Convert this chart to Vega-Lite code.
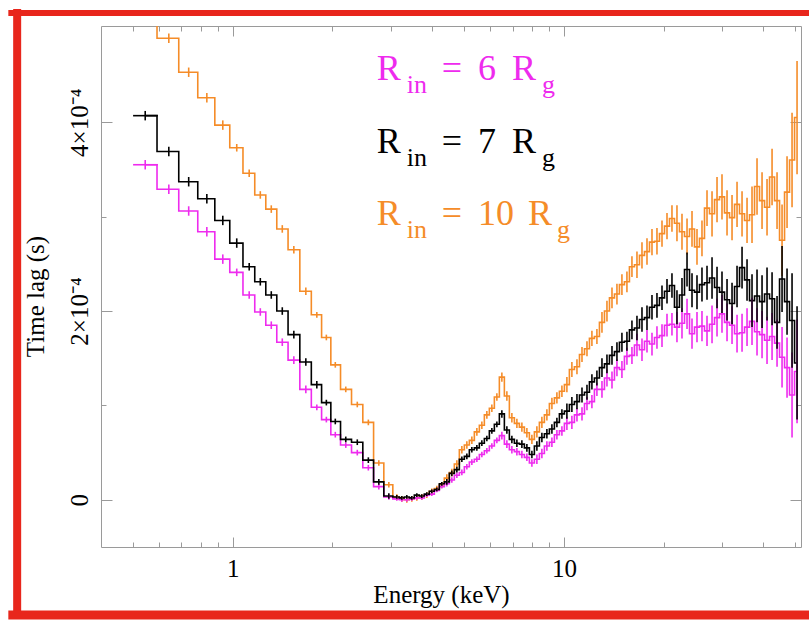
{
  "$schema": "https://vega.github.io/schema/vega-lite/v6.json",
  "width": 700,
  "height": 521,
  "autosize": {"type": "none"},
  "padding": {"left": 101, "top": 26, "right": 8, "bottom": 74},
  "background": "#ffffff",
  "config": {
    "view": {"stroke": null},
    "font": "Liberation Serif",
    "text": {"font": "Liberation Serif"},
    "axis": {
      "domainColor": "#9a9a9a", "tickColor": "#9a9a9a", "domainWidth": 1, "tickWidth": 1,
      "labelFont": "Liberation Serif", "labelFontSize": 25, "labelColor": "#000000",
      "titleFont": "Liberation Serif", "titleFontSize": 25, "titleFontWeight": "normal", "titleColor": "#000000",
      "grid": false, "labelOverlap": false, "labelBound": false, "labelFlush": false
    }
  },
  "datasets": {
    "firstbins": [
      {"r":10,"lo":0.5,"hi":0.594,"v":5.5},
      {"r":6,"lo":0.5,"hi":0.594,"v":3.55},
      {"r":7,"lo":0.5,"hi":0.594,"v":4.07}
    ],
    "lags": [
      {"r":10,"c":0.544,"v":5.5,"d":0.05},{"r":10,"c":0.641,"v":4.89,"d":0.05},{"r":10,"c":0.736,"v":4.53,"d":0.05},{"r":10,"c":0.835,"v":4.26,"d":0.05},{"r":10,"c":0.933,"v":3.97,"d":0.05},
      {"r":10,"c":1.028,"v":3.73,"d":0.04},{"r":10,"c":1.121,"v":3.46,"d":0.04},{"r":10,"c":1.211,"v":3.23,"d":0.04},{"r":10,"c":1.307,"v":3.08,"d":0.04},{"r":10,"c":1.411,"v":2.87,"d":0.04},
      {"r":10,"c":1.529,"v":2.65,"d":0.04},{"r":10,"c":1.662,"v":2.21,"d":0.04},{"r":10,"c":1.794,"v":1.96,"d":0.03},{"r":10,"c":1.917,"v":1.72,"d":0.03},{"r":10,"c":2.04,"v":1.43,"d":0.03},
      {"r":10,"c":2.194,"v":1.17,"d":0.03},{"r":10,"c":2.377,"v":1.01,"d":0.03},{"r":10,"c":2.567,"v":0.82,"d":0.03},{"r":10,"c":2.761,"v":0.39,"d":0.03},{"r":10,"c":2.96,"v":0.16,"d":0.03},
      {"r":10,"c":3.129,"v":0.03,"d":0.03},{"r":10,"c":3.24,"v":0.01,"d":0.03},{"r":10,"c":3.354,"v":0.0,"d":0.03},{"r":10,"c":3.473,"v":0.01,"d":0.03},{"r":10,"c":3.596,"v":0.02,"d":0.03},
      {"r":10,"c":3.723,"v":0.03,"d":0.03},{"r":10,"c":3.855,"v":0.05,"d":0.03},{"r":10,"c":3.991,"v":0.09,"d":0.03},{"r":10,"c":4.133,"v":0.12,"d":0.03},{"r":10,"c":4.279,"v":0.16,"d":0.03},
      {"r":10,"c":4.43,"v":0.23,"d":0.04},{"r":10,"c":4.587,"v":0.29,"d":0.04},{"r":10,"c":4.75,"v":0.38,"d":0.04},{"r":10,"c":4.918,"v":0.53,"d":0.04},{"r":10,"c":5.092,"v":0.58,"d":0.04},
      {"r":10,"c":5.272,"v":0.63,"d":0.04},{"r":10,"c":5.459,"v":0.72,"d":0.04},{"r":10,"c":5.652,"v":0.79,"d":0.04},{"r":10,"c":5.852,"v":0.9,"d":0.04},{"r":10,"c":6.059,"v":0.97,"d":0.04},
      {"r":10,"c":6.274,"v":1.09,"d":0.04},{"r":10,"c":6.496,"v":1.3,"d":0.05},{"r":10,"c":6.726,"v":1.1,"d":0.05},{"r":10,"c":6.964,"v":0.87,"d":0.05},{"r":10,"c":7.211,"v":0.81,"d":0.05},
      {"r":10,"c":7.466,"v":0.77,"d":0.05},{"r":10,"c":7.73,"v":0.71,"d":0.05},{"r":10,"c":8.004,"v":0.64,"d":0.05},{"r":10,"c":8.287,"v":0.72,"d":0.06},{"r":10,"c":8.58,"v":0.82,"d":0.06},
      {"r":10,"c":8.884,"v":0.9,"d":0.06},{"r":10,"c":9.199,"v":1.02,"d":0.06},{"r":10,"c":9.524,"v":1.08,"d":0.06},{"r":10,"c":9.862,"v":1.15,"d":0.06},{"r":10,"c":10.21,"v":1.22,"d":0.08},
      {"r":10,"c":10.57,"v":1.38,"d":0.08},{"r":10,"c":10.95,"v":1.41,"d":0.08},{"r":10,"c":11.34,"v":1.54,"d":0.08},{"r":10,"c":11.74,"v":1.6,"d":0.08},{"r":10,"c":12.15,"v":1.71,"d":0.08},
      {"r":10,"c":12.58,"v":1.73,"d":0.08},{"r":10,"c":13.03,"v":1.88,"d":0.11},{"r":10,"c":13.49,"v":2.0,"d":0.11},{"r":10,"c":13.97,"v":2.14,"d":0.11},{"r":10,"c":14.46,"v":2.18,"d":0.11},
      {"r":10,"c":14.97,"v":2.28,"d":0.11},{"r":10,"c":15.5,"v":2.31,"d":0.11},{"r":10,"c":16.05,"v":2.47,"d":0.11},{"r":10,"c":16.62,"v":2.49,"d":0.14},{"r":10,"c":17.21,"v":2.59,"d":0.14},
      {"r":10,"c":17.82,"v":2.63,"d":0.14},{"r":10,"c":18.45,"v":2.73,"d":0.14},{"r":10,"c":19.1,"v":2.74,"d":0.14},{"r":10,"c":19.78,"v":2.82,"d":0.14},{"r":10,"c":20.48,"v":2.9,"d":0.14},
      {"r":10,"c":21.2,"v":2.98,"d":0.14},{"r":10,"c":21.95,"v":2.93,"d":0.19},{"r":10,"c":22.73,"v":2.84,"d":0.19},{"r":10,"c":23.54,"v":2.79,"d":0.19},{"r":10,"c":24.37,"v":2.87,"d":0.19},
      {"r":10,"c":25.23,"v":2.68,"d":0.19},{"r":10,"c":26.12,"v":2.77,"d":0.19},{"r":10,"c":27.05,"v":3.09,"d":0.19},{"r":10,"c":28.01,"v":3.03,"d":0.24},{"r":10,"c":29.0,"v":3.18,"d":0.24},
      {"r":10,"c":30.02,"v":3.21,"d":0.24},{"r":10,"c":31.09,"v":3.04,"d":0.24},{"r":10,"c":32.19,"v":2.99,"d":0.24},{"r":10,"c":33.33,"v":3.13,"d":0.24},{"r":10,"c":34.51,"v":3.03,"d":0.24},
      {"r":10,"c":35.73,"v":2.96,"d":0.24},{"r":10,"c":36.99,"v":3.02,"d":0.3},{"r":10,"c":38.3,"v":3.32,"d":0.3},{"r":10,"c":39.66,"v":3.17,"d":0.3},{"r":10,"c":41.06,"v":3.1,"d":0.3},
      {"r":10,"c":42.52,"v":3.42,"d":0.3},{"r":10,"c":44.02,"v":3.17,"d":0.3},{"r":10,"c":45.58,"v":2.75,"d":0.38},{"r":10,"c":47.19,"v":3.26,"d":0.38},{"r":10,"c":48.86,"v":3.6,"d":0.5},
      {"r":10,"c":50.59,"v":4.05,"d":0.6},

      {"r":6,"c":0.544,"v":3.55,"d":0.05},{"r":6,"c":0.641,"v":3.29,"d":0.05},{"r":6,"c":0.736,"v":3.06,"d":0.05},{"r":6,"c":0.835,"v":2.84,"d":0.05},{"r":6,"c":0.933,"v":2.55,"d":0.05},
      {"r":6,"c":1.028,"v":2.41,"d":0.04},{"r":6,"c":1.121,"v":2.17,"d":0.04},{"r":6,"c":1.211,"v":1.99,"d":0.04},{"r":6,"c":1.307,"v":1.85,"d":0.04},{"r":6,"c":1.411,"v":1.67,"d":0.04},
      {"r":6,"c":1.529,"v":1.48,"d":0.04},{"r":6,"c":1.662,"v":1.17,"d":0.04},{"r":6,"c":1.794,"v":0.98,"d":0.03},{"r":6,"c":1.917,"v":0.85,"d":0.03},{"r":6,"c":2.04,"v":0.69,"d":0.03},
      {"r":6,"c":2.194,"v":0.58,"d":0.03},{"r":6,"c":2.377,"v":0.5,"d":0.03},{"r":6,"c":2.567,"v":0.34,"d":0.03},{"r":6,"c":2.761,"v":0.14,"d":0.03},{"r":6,"c":2.96,"v":0.03,"d":0.03},
      {"r":6,"c":3.129,"v":0.01,"d":0.02},{"r":6,"c":3.24,"v":0.0,"d":0.02},{"r":6,"c":3.354,"v":0.0,"d":0.02},{"r":6,"c":3.473,"v":0.01,"d":0.02},{"r":6,"c":3.596,"v":0.02,"d":0.02},
      {"r":6,"c":3.723,"v":0.02,"d":0.02},{"r":6,"c":3.855,"v":0.05,"d":0.02},{"r":6,"c":3.991,"v":0.06,"d":0.02},{"r":6,"c":4.133,"v":0.1,"d":0.02},{"r":6,"c":4.279,"v":0.14,"d":0.02},
      {"r":6,"c":4.43,"v":0.17,"d":0.03},{"r":6,"c":4.587,"v":0.21,"d":0.03},{"r":6,"c":4.75,"v":0.26,"d":0.03},{"r":6,"c":4.918,"v":0.29,"d":0.03},{"r":6,"c":5.092,"v":0.35,"d":0.03},
      {"r":6,"c":5.272,"v":0.4,"d":0.03},{"r":6,"c":5.459,"v":0.43,"d":0.03},{"r":6,"c":5.652,"v":0.48,"d":0.03},{"r":6,"c":5.852,"v":0.52,"d":0.03},{"r":6,"c":6.059,"v":0.57,"d":0.03},
      {"r":6,"c":6.274,"v":0.63,"d":0.03},{"r":6,"c":6.496,"v":0.68,"d":0.04},{"r":6,"c":6.726,"v":0.59,"d":0.04},{"r":6,"c":6.964,"v":0.53,"d":0.04},{"r":6,"c":7.211,"v":0.51,"d":0.04},
      {"r":6,"c":7.466,"v":0.48,"d":0.04},{"r":6,"c":7.73,"v":0.45,"d":0.04},{"r":6,"c":8.004,"v":0.39,"d":0.04},{"r":6,"c":8.287,"v":0.43,"d":0.05},{"r":6,"c":8.58,"v":0.49,"d":0.05},
      {"r":6,"c":8.884,"v":0.57,"d":0.05},{"r":6,"c":9.199,"v":0.61,"d":0.05},{"r":6,"c":9.524,"v":0.69,"d":0.05},{"r":6,"c":9.862,"v":0.73,"d":0.05},{"r":6,"c":10.21,"v":0.81,"d":0.07},
      {"r":6,"c":10.57,"v":0.82,"d":0.07},{"r":6,"c":10.95,"v":0.9,"d":0.07},{"r":6,"c":11.34,"v":0.91,"d":0.07},{"r":6,"c":11.74,"v":1.02,"d":0.07},{"r":6,"c":12.15,"v":1.04,"d":0.07},
      {"r":6,"c":12.58,"v":1.17,"d":0.07},{"r":6,"c":13.03,"v":1.17,"d":0.09},{"r":6,"c":13.49,"v":1.29,"d":0.09},{"r":6,"c":13.97,"v":1.27,"d":0.09},{"r":6,"c":14.46,"v":1.4,"d":0.09},
      {"r":6,"c":14.97,"v":1.38,"d":0.09},{"r":6,"c":15.5,"v":1.52,"d":0.09},{"r":6,"c":16.05,"v":1.53,"d":0.09},{"r":6,"c":16.62,"v":1.64,"d":0.12},{"r":6,"c":17.21,"v":1.59,"d":0.12},
      {"r":6,"c":17.82,"v":1.68,"d":0.12},{"r":6,"c":18.45,"v":1.65,"d":0.12},{"r":6,"c":19.1,"v":1.72,"d":0.12},{"r":6,"c":19.78,"v":1.74,"d":0.12},{"r":6,"c":20.48,"v":1.85,"d":0.12},
      {"r":6,"c":21.2,"v":1.86,"d":0.12},{"r":6,"c":21.95,"v":1.83,"d":0.16},{"r":6,"c":22.73,"v":1.87,"d":0.16},{"r":6,"c":23.54,"v":1.97,"d":0.16},{"r":6,"c":24.37,"v":1.76,"d":0.16},
      {"r":6,"c":25.23,"v":1.83,"d":0.16},{"r":6,"c":26.12,"v":1.84,"d":0.16},{"r":6,"c":27.05,"v":1.79,"d":0.16},{"r":6,"c":28.01,"v":1.86,"d":0.2},{"r":6,"c":29.0,"v":1.93,"d":0.2},
      {"r":6,"c":30.02,"v":1.97,"d":0.2},{"r":6,"c":31.09,"v":1.88,"d":0.2},{"r":6,"c":32.19,"v":1.85,"d":0.2},{"r":6,"c":33.33,"v":1.76,"d":0.2},{"r":6,"c":34.51,"v":1.77,"d":0.2},
      {"r":6,"c":35.73,"v":1.83,"d":0.2},{"r":6,"c":36.99,"v":1.89,"d":0.25},{"r":6,"c":38.3,"v":1.78,"d":0.25},{"r":6,"c":39.66,"v":1.75,"d":0.25},{"r":6,"c":41.06,"v":1.69,"d":0.25},
      {"r":6,"c":42.52,"v":1.73,"d":0.25},{"r":6,"c":44.02,"v":1.66,"d":0.25},{"r":6,"c":45.58,"v":1.51,"d":0.32},{"r":6,"c":47.19,"v":1.4,"d":0.32},{"r":6,"c":48.86,"v":1.11,"d":0.45},
      {"r":6,"c":50.59,"v":1.36,"d":0.55},

      {"r":7,"c":0.544,"v":4.07,"d":0.05},{"r":7,"c":0.641,"v":3.69,"d":0.05},{"r":7,"c":0.736,"v":3.37,"d":0.05},{"r":7,"c":0.835,"v":3.19,"d":0.05},{"r":7,"c":0.933,"v":2.96,"d":0.05},
      {"r":7,"c":1.028,"v":2.72,"d":0.05},{"r":7,"c":1.121,"v":2.47,"d":0.04},{"r":7,"c":1.211,"v":2.31,"d":0.04},{"r":7,"c":1.307,"v":2.17,"d":0.04},{"r":7,"c":1.411,"v":2.0,"d":0.04},
      {"r":7,"c":1.529,"v":1.75,"d":0.04},{"r":7,"c":1.662,"v":1.46,"d":0.04},{"r":7,"c":1.794,"v":1.22,"d":0.04},{"r":7,"c":1.917,"v":1.03,"d":0.03},{"r":7,"c":2.04,"v":0.83,"d":0.03},
      {"r":7,"c":2.194,"v":0.64,"d":0.03},{"r":7,"c":2.377,"v":0.61,"d":0.03},{"r":7,"c":2.567,"v":0.42,"d":0.03},{"r":7,"c":2.761,"v":0.19,"d":0.03},{"r":7,"c":2.96,"v":0.04,"d":0.03},
      {"r":7,"c":3.129,"v":0.03,"d":0.02},{"r":7,"c":3.24,"v":0.02,"d":0.02},{"r":7,"c":3.354,"v":0.03,"d":0.02},{"r":7,"c":3.473,"v":0.02,"d":0.02},{"r":7,"c":3.596,"v":0.05,"d":0.02},
      {"r":7,"c":3.723,"v":0.04,"d":0.02},{"r":7,"c":3.855,"v":0.06,"d":0.02},{"r":7,"c":3.991,"v":0.09,"d":0.02},{"r":7,"c":4.133,"v":0.11,"d":0.02},{"r":7,"c":4.279,"v":0.17,"d":0.02},
      {"r":7,"c":4.43,"v":0.19,"d":0.03},{"r":7,"c":4.587,"v":0.28,"d":0.03},{"r":7,"c":4.75,"v":0.32,"d":0.03},{"r":7,"c":4.918,"v":0.43,"d":0.03},{"r":7,"c":5.092,"v":0.46,"d":0.03},
      {"r":7,"c":5.272,"v":0.53,"d":0.03},{"r":7,"c":5.459,"v":0.55,"d":0.03},{"r":7,"c":5.652,"v":0.6,"d":0.03},{"r":7,"c":5.852,"v":0.65,"d":0.03},{"r":7,"c":6.059,"v":0.73,"d":0.03},
      {"r":7,"c":6.274,"v":0.8,"d":0.03},{"r":7,"c":6.496,"v":0.91,"d":0.04},{"r":7,"c":6.726,"v":0.74,"d":0.04},{"r":7,"c":6.964,"v":0.64,"d":0.04},{"r":7,"c":7.211,"v":0.6,"d":0.04},
      {"r":7,"c":7.466,"v":0.59,"d":0.04},{"r":7,"c":7.73,"v":0.55,"d":0.04},{"r":7,"c":8.004,"v":0.48,"d":0.04},{"r":7,"c":8.287,"v":0.57,"d":0.05},{"r":7,"c":8.58,"v":0.66,"d":0.05},
      {"r":7,"c":8.884,"v":0.7,"d":0.05},{"r":7,"c":9.199,"v":0.75,"d":0.05},{"r":7,"c":9.524,"v":0.82,"d":0.05},{"r":7,"c":9.862,"v":0.91,"d":0.05},{"r":7,"c":10.21,"v":0.94,"d":0.08},
      {"r":7,"c":10.57,"v":1.01,"d":0.08},{"r":7,"c":10.95,"v":1.04,"d":0.08},{"r":7,"c":11.34,"v":1.11,"d":0.08},{"r":7,"c":11.74,"v":1.14,"d":0.08},{"r":7,"c":12.15,"v":1.25,"d":0.08},
      {"r":7,"c":12.58,"v":1.29,"d":0.08},{"r":7,"c":13.03,"v":1.4,"d":0.1},{"r":7,"c":13.49,"v":1.44,"d":0.1},{"r":7,"c":13.97,"v":1.53,"d":0.1},{"r":7,"c":14.46,"v":1.57,"d":0.1},
      {"r":7,"c":14.97,"v":1.67,"d":0.1},{"r":7,"c":15.5,"v":1.68,"d":0.1},{"r":7,"c":16.05,"v":1.8,"d":0.1},{"r":7,"c":16.62,"v":1.82,"d":0.13},{"r":7,"c":17.21,"v":1.91,"d":0.13},
      {"r":7,"c":17.82,"v":1.93,"d":0.13},{"r":7,"c":18.45,"v":2.04,"d":0.13},{"r":7,"c":19.1,"v":2.06,"d":0.13},{"r":7,"c":19.78,"v":2.14,"d":0.13},{"r":7,"c":20.48,"v":2.21,"d":0.13},
      {"r":7,"c":21.2,"v":2.27,"d":0.13},{"r":7,"c":21.95,"v":2.04,"d":0.18},{"r":7,"c":22.73,"v":2.17,"d":0.18},{"r":7,"c":23.54,"v":2.44,"d":0.18},{"r":7,"c":24.37,"v":2.22,"d":0.18},
      {"r":7,"c":25.23,"v":2.2,"d":0.18},{"r":7,"c":26.12,"v":2.28,"d":0.18},{"r":7,"c":27.05,"v":2.3,"d":0.18},{"r":7,"c":28.01,"v":2.35,"d":0.22},{"r":7,"c":29.0,"v":2.25,"d":0.22},
      {"r":7,"c":30.02,"v":2.2,"d":0.22},{"r":7,"c":31.09,"v":2.12,"d":0.22},{"r":7,"c":32.19,"v":2.08,"d":0.22},{"r":7,"c":33.33,"v":2.26,"d":0.22},{"r":7,"c":34.51,"v":2.46,"d":0.22},
      {"r":7,"c":35.73,"v":2.33,"d":0.22},{"r":7,"c":36.99,"v":2.11,"d":0.28},{"r":7,"c":38.3,"v":2.16,"d":0.28},{"r":7,"c":39.66,"v":2.1,"d":0.28},{"r":7,"c":41.06,"v":2.18,"d":0.28},
      {"r":7,"c":42.52,"v":2.13,"d":0.28},{"r":7,"c":44.02,"v":1.88,"d":0.28},{"r":7,"c":45.58,"v":2.34,"d":0.35},{"r":7,"c":47.19,"v":2.1,"d":0.35},{"r":7,"c":48.86,"v":1.9,"d":0.5},
      {"r":7,"c":50.59,"v":1.45,"d":0.6}
    ]
  },
  "resolve": {"axis": {"x": "independent", "y": "independent"}},
  "layer": [
    {
      "data": {"name": "lags"},
      "mark": {"type": "line", "interpolate": "step", "strokeWidth": 1.6, "clip": true},
      "encoding": {
        "x": {
          "field": "c", "type": "quantitative",
          "scale": {"type": "log", "domain": [0.4, 52], "nice": false},
          "axis": {
            "orient": "bottom", "values": [1, 10], "tickSize": -10, "labelPadding": 39,
            "labelBaseline": "alphabetic", "labelAlign": "center",
            "labelExpr": "datum.value == 1 ? '1' : '10'",
            "title": "Energy (keV)", "titleX": 340, "titleY": 55,
            "titleBaseline": "alphabetic", "titleAlign": "center"
          }
        },
        "y": {
          "field": "v", "type": "quantitative",
          "scale": {"domain": [-0.5, 5.02], "nice": false, "zero": false},
          "axis": {
            "orient": "left", "values": [0, 2, 4], "tickSize": -11, "labelPadding": 25,
            "labelAngle": -90, "labelAlign": "center", "labelBaseline": "alphabetic",
            "labelExpr": "datum.value == 0 ? '0' : (datum.value == 2 ? '2×10⁻⁴' : '4×10⁻⁴')",
            "title": "Time lag (s)", "titleX": -58, "titleY": 270, "titleAngle": -90,
            "titleBaseline": "alphabetic", "titleAlign": "center"
          }
        },
        "color": {
          "field": "r", "type": "nominal",
          "scale": {"domain": [10, 6, 7], "range": ["#f58c28", "#ee2bee", "#000000"]},
          "legend": null
        }
      }
    },
    {
      "data": {"name": "lags"},
      "mark": {"type": "errorbar", "clip": true, "thickness": 1.6},
      "encoding": {
        "x": {"field": "c", "type": "quantitative", "axis": {"orient": "top", "values": [1, 10], "tickSize": -10, "labels": false, "title": null}},
        "y": {"field": "v", "type": "quantitative", "axis": {"orient": "right", "values": [0, 2, 4], "tickSize": -11, "labels": false, "title": null}},
        "yError": {"field": "d"},
        "color": {"field": "r", "type": "nominal", "legend": null}
      }
    },
    {
      "data": {"values": [{}]},
      "mark": {"type": "point", "opacity": 0},
      "encoding": {
        "x": {"datum": 1, "type": "quantitative", "axis": {"orient": "bottom", "values": [0.5, 0.6, 0.7, 0.8, 0.9, 2, 3, 4, 5, 6, 7, 8, 9, 20, 30, 40, 50], "tickSize": -5, "labels": false, "domain": false, "title": null}},
        "y": {"datum": 1, "type": "quantitative", "axis": {"orient": "left", "values": [1, 3], "tickSize": -5, "labels": false, "domain": false, "title": null}}
      }
    },
    {
      "data": {"values": [{}]},
      "mark": {"type": "point", "opacity": 0},
      "encoding": {
        "x": {"datum": 1, "type": "quantitative", "axis": {"orient": "top", "values": [0.5, 0.6, 0.7, 0.8, 0.9, 2, 3, 4, 5, 6, 7, 8, 9, 20, 30, 40, 50], "tickSize": -5, "labels": false, "domain": false, "title": null}},
        "y": {"datum": 1, "type": "quantitative", "axis": {"orient": "right", "values": [1, 3], "tickSize": -5, "labels": false, "domain": false, "title": null}}
      }
    },
    {
      "data": {"name": "firstbins"},
      "mark": {"type": "rule", "strokeWidth": 1.6, "clip": true},
      "encoding": {
        "x": {"field": "lo", "type": "quantitative", "axis": null},
        "x2": {"field": "hi"},
        "y": {"field": "v", "type": "quantitative", "axis": null},
        "color": {"field": "r", "type": "nominal", "legend": null}
      }
    },
    {
      "data": {"values": [{}]},
      "layer": [
        {"mark": {"type": "rule", "color": "#e8261c", "strokeWidth": 8, "clip": false},
         "encoding": {"x": {"datum": 0.2233, "type": "quantitative", "axis": null}, "y": {"datum": 5.2, "type": "quantitative", "axis": null}, "y2": {"datum": -1.25}}},
        {"mark": {"type": "rule", "color": "#e8261c", "strokeWidth": 6, "clip": false},
         "encoding": {"x": {"datum": 0.21, "type": "quantitative", "axis": null}, "x2": {"datum": 90}, "y": {"datum": 5.158, "type": "quantitative", "axis": null}}},
        {"mark": {"type": "rule", "color": "#e8261c", "strokeWidth": 9, "clip": false},
         "encoding": {"x": {"datum": 0.21, "type": "quantitative", "axis": null}, "x2": {"datum": 90}, "y": {"datum": -1.22, "type": "quantitative", "axis": null}}},

        {"mark": {"type": "text", "text": "R", "font": "Liberation Serif", "fontSize": 36, "align": "left", "baseline": "alphabetic", "color": "#ee2bee"},
         "encoding": {"x": {"datum": 2.723, "type": "quantitative", "axis": null}, "y": {"datum": 4.447, "type": "quantitative", "axis": null}}},
        {"mark": {"type": "text", "text": "in", "font": "Liberation Serif", "fontSize": 26, "align": "left", "baseline": "alphabetic", "color": "#ee2bee"},
         "encoding": {"x": {"datum": 3.355, "type": "quantitative", "axis": null}, "y": {"datum": 4.31, "type": "quantitative", "axis": null}}},
        {"mark": {"type": "text", "text": "=", "font": "Liberation Serif", "fontSize": 36, "align": "left", "baseline": "alphabetic", "color": "#ee2bee"},
         "encoding": {"x": {"datum": 4.28, "type": "quantitative", "axis": null}, "y": {"datum": 4.447, "type": "quantitative", "axis": null}}},
        {"mark": {"type": "text", "text": "6", "font": "Liberation Serif", "fontSize": 36, "align": "left", "baseline": "alphabetic", "color": "#ee2bee"},
         "encoding": {"x": {"datum": 5.498, "type": "quantitative", "axis": null}, "y": {"datum": 4.447, "type": "quantitative", "axis": null}}},
        {"mark": {"type": "text", "text": "R", "font": "Liberation Serif", "fontSize": 36, "align": "left", "baseline": "alphabetic", "color": "#ee2bee"},
         "encoding": {"x": {"datum": 6.965, "type": "quantitative", "axis": null}, "y": {"datum": 4.447, "type": "quantitative", "axis": null}}},
        {"mark": {"type": "text", "text": "g", "font": "Liberation Serif", "fontSize": 26, "align": "left", "baseline": "alphabetic", "color": "#ee2bee"},
         "encoding": {"x": {"datum": 8.582, "type": "quantitative", "axis": null}, "y": {"datum": 4.31, "type": "quantitative", "axis": null}}},

        {"mark": {"type": "text", "text": "R", "font": "Liberation Serif", "fontSize": 36, "align": "left", "baseline": "alphabetic", "color": "#000000"},
         "encoding": {"x": {"datum": 2.723, "type": "quantitative", "axis": null}, "y": {"datum": 3.673, "type": "quantitative", "axis": null}}},
        {"mark": {"type": "text", "text": "in", "font": "Liberation Serif", "fontSize": 26, "align": "left", "baseline": "alphabetic", "color": "#000000"},
         "encoding": {"x": {"datum": 3.355, "type": "quantitative", "axis": null}, "y": {"datum": 3.536, "type": "quantitative", "axis": null}}},
        {"mark": {"type": "text", "text": "=", "font": "Liberation Serif", "fontSize": 36, "align": "left", "baseline": "alphabetic", "color": "#000000"},
         "encoding": {"x": {"datum": 4.28, "type": "quantitative", "axis": null}, "y": {"datum": 3.673, "type": "quantitative", "axis": null}}},
        {"mark": {"type": "text", "text": "7", "font": "Liberation Serif", "fontSize": 36, "align": "left", "baseline": "alphabetic", "color": "#000000"},
         "encoding": {"x": {"datum": 5.498, "type": "quantitative", "axis": null}, "y": {"datum": 3.673, "type": "quantitative", "axis": null}}},
        {"mark": {"type": "text", "text": "R", "font": "Liberation Serif", "fontSize": 36, "align": "left", "baseline": "alphabetic", "color": "#000000"},
         "encoding": {"x": {"datum": 6.965, "type": "quantitative", "axis": null}, "y": {"datum": 3.673, "type": "quantitative", "axis": null}}},
        {"mark": {"type": "text", "text": "g", "font": "Liberation Serif", "fontSize": 26, "align": "left", "baseline": "alphabetic", "color": "#000000"},
         "encoding": {"x": {"datum": 8.582, "type": "quantitative", "axis": null}, "y": {"datum": 3.536, "type": "quantitative", "axis": null}}},

        {"mark": {"type": "text", "text": "R", "font": "Liberation Serif", "fontSize": 36, "align": "left", "baseline": "alphabetic", "color": "#f58c28"},
         "encoding": {"x": {"datum": 2.723, "type": "quantitative", "axis": null}, "y": {"datum": 2.911, "type": "quantitative", "axis": null}}},
        {"mark": {"type": "text", "text": "in", "font": "Liberation Serif", "fontSize": 26, "align": "left", "baseline": "alphabetic", "color": "#f58c28"},
         "encoding": {"x": {"datum": 3.355, "type": "quantitative", "axis": null}, "y": {"datum": 2.774, "type": "quantitative", "axis": null}}},
        {"mark": {"type": "text", "text": "=", "font": "Liberation Serif", "fontSize": 36, "align": "left", "baseline": "alphabetic", "color": "#f58c28"},
         "encoding": {"x": {"datum": 4.28, "type": "quantitative", "axis": null}, "y": {"datum": 2.911, "type": "quantitative", "axis": null}}},
        {"mark": {"type": "text", "text": "10", "font": "Liberation Serif", "fontSize": 36, "align": "left", "baseline": "alphabetic", "color": "#f58c28"},
         "encoding": {"x": {"datum": 5.498, "type": "quantitative", "axis": null}, "y": {"datum": 2.911, "type": "quantitative", "axis": null}}},
        {"mark": {"type": "text", "text": "R", "font": "Liberation Serif", "fontSize": 36, "align": "left", "baseline": "alphabetic", "color": "#f58c28"},
         "encoding": {"x": {"datum": 7.785, "type": "quantitative", "axis": null}, "y": {"datum": 2.911, "type": "quantitative", "axis": null}}},
        {"mark": {"type": "text", "text": "g", "font": "Liberation Serif", "fontSize": 26, "align": "left", "baseline": "alphabetic", "color": "#f58c28"},
         "encoding": {"x": {"datum": 9.526, "type": "quantitative", "axis": null}, "y": {"datum": 2.774, "type": "quantitative", "axis": null}}}
      ]
    }
  ]
}
